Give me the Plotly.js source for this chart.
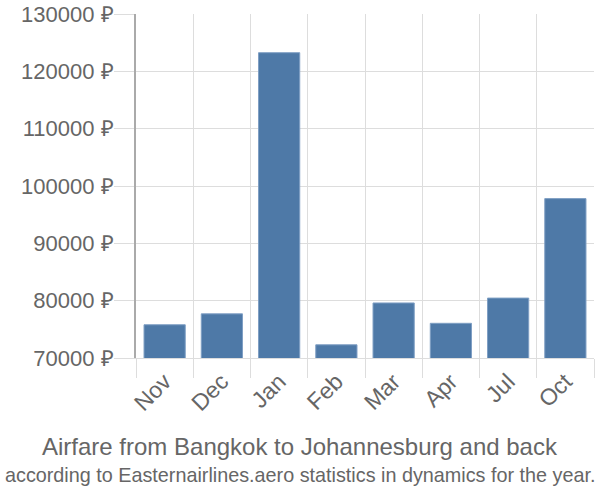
<!DOCTYPE html>
<html>
<head>
<meta charset="utf-8">
<script src="https://cdn.plot.ly/plotly-3.0.1.min.js"></script>
<style>html,body{margin:0;padding:0;background:#fff;}#chart{width:600px;height:500px;}</style>
</head>
<body>
<div id="chart"></div>
<script>
const months = ["Nov","Dec","Jan","Feb","Mar","Apr","Jul","Oct"];
const prices = [75800, 77700, 123250, 72300, 79600, 76050, 80450, 97800];
const titleLine1 = "Airfare from Bangkok to Johannesburg and back";
const titleLine2 = "according to Easternairlines.aero statistics in dynamics for the year.";

const trace = {
  type: "bar",
  x: months,
  y: prices,
  marker: {color: "#4e79a7", line: {color: "#7f9fc4", width: 1}},
  hoverinfo: "none"
};

const cx = (300 - 136) / 458;

const layout = {
  width: 600, height: 500,
  margin: {l: 136, r: 6, t: 14, b: 142},
  paper_bgcolor: "#fff", plot_bgcolor: "#fff",
  bargap: 0.28,
  showlegend: false,
  font: {family: "Liberation Sans, Arial, sans-serif", color: "#666", size: 21},
  xaxis: {
    type: "category",
    tickson: "boundaries",
    ticks: "outside", ticklen: 19, tickcolor: "#ddd", tickwidth: 1,
    showgrid: true, gridcolor: "#ddd", gridwidth: 1,
    showline: true, linecolor: "#ddd", linewidth: 1,
    tickangle: -45,
    tickfont: {size: 23, color: "#666"}
  },
  yaxis: {
    range: [70000, 130000],
    dtick: 10000, tick0: 70000,
    ticksuffix: " ₽",
    tickformat: "d",
    ticks: "outside", ticklen: 20, tickcolor: "#ddd", tickwidth: 1,
    ticklabelstandoff: -4,
    showgrid: true, gridcolor: "#ddd", gridwidth: 1,
    showline: true, linecolor: "#aaa", linewidth: 2,
    zeroline: false,
    tickfont: {size: 22, color: "#666"}
  },
  annotations: [
    {text: titleLine1, xref: "paper", yref: "paper", x: cx, xanchor: "center",
     y: (358 - 446) / 344, yanchor: "middle", showarrow: false,
     font: {size: 24, color: "#666", family: "Liberation Sans, Arial, sans-serif"}},
    {text: titleLine2, xref: "paper", yref: "paper", x: cx, xanchor: "center",
     y: (358 - 475) / 344, yanchor: "middle", showarrow: false,
     font: {size: 19.8, color: "#666", family: "Liberation Sans, Arial, sans-serif"}}
  ]
};

Plotly.newPlot("chart", [trace], layout, {staticPlot: true, displayModeBar: false});
</script>
</body>
</html>
